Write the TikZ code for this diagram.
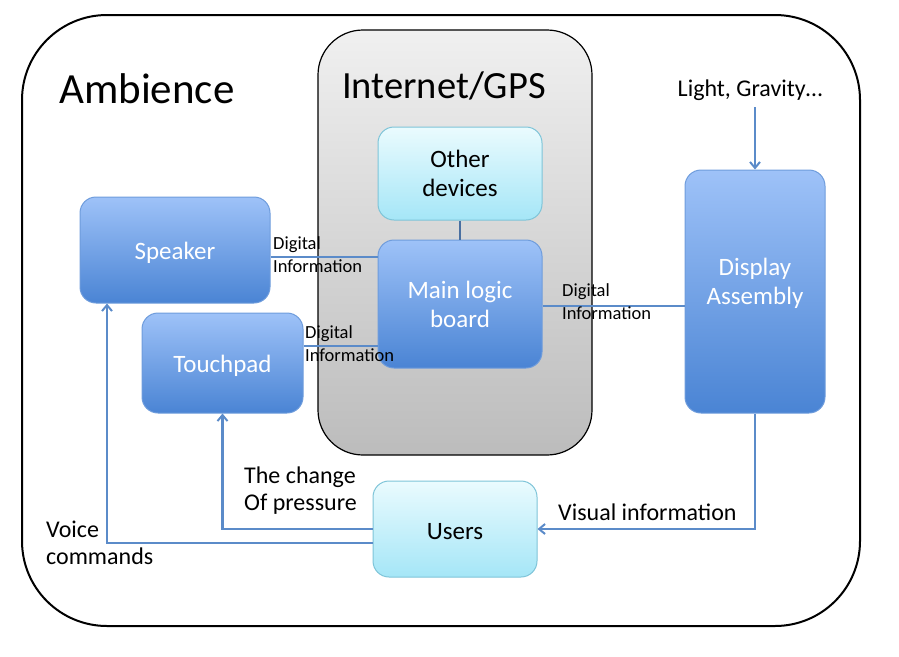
\documentclass[tikz,border=0pt]{standalone}
\usepackage{fontspec}
\setmainfont{Carlito}
\usetikzlibrary{arrows.meta,calc}
\definecolor{conncol}{HTML}{5B8BC9}
\definecolor{bluetop}{HTML}{9EC2F8}
\definecolor{bluebot}{HTML}{4A84D4}
\definecolor{blueedge}{HTML}{6E9CDC}
\definecolor{cyantop}{HTML}{EAFBFE}
\definecolor{cyanbot}{HTML}{A5E6F7}
\definecolor{cyanedge}{HTML}{7EC4D8}
\definecolor{graytop}{HTML}{F0F0F0}
\definecolor{graybot}{HTML}{BCBCBC}
\newcommand{\lowtxt}[1]{\raisebox{-3pt}[\height][\depth]{#1}}
\tikzset{
  bluebox/.style={draw=blueedge,line width=1pt,rounded corners=16pt,top color=bluetop,bottom color=bluebot,
    text=white,font=\fontsize{25}{29}\selectfont,align=center,inner sep=0pt},
  cyanbox/.style={draw=cyanedge,line width=1pt,rounded corners=16pt,top color=cyantop,bottom color=cyanbot,
    text=black,font=\fontsize{25}{29}\selectfont,align=center,inner sep=0pt},
  conn/.style={draw=conncol,line width=2.5pt},
  arr/.style={conn,-{Straight Barb[length=6pt,width=10pt,line width=2pt]}},
  smalllbl/.style={font=\fontsize{18.5}{23}\selectfont,align=left,anchor=west,inner sep=0pt},
  midlbl/.style={font=\fontsize{24}{27}\selectfont,align=left,anchor=west,inner sep=0pt},
}
\begin{document}
\begin{tikzpicture}[x=1pt,y=-1pt]
\useasboundingbox (0,0) rectangle (899,656);
% outer frame
\draw[line width=2pt,rounded corners=85pt] (22,15) rectangle (860,626);
\node[font=\fontsize{43}{45}\selectfont,anchor=west,inner sep=0pt] (amb) at (59,89) {Ambience};
% gray internet box
\node[draw=black,line width=1.2pt,rounded corners=45pt,top color=graytop,bottom color=graybot,
  minimum width=274pt,minimum height=425pt,inner sep=0pt] (gps) at (455,242.5) {};
\node[font=\fontsize{38.5}{40}\selectfont,inner sep=0pt] (gpslbl) at (444,86) {Internet/GPS};
% boxes
\node[cyanbox,minimum width=164pt,minimum height=93pt] (other) at (460,173.5) {Other\\devices};
\node[bluebox,minimum width=164pt,minimum height=128pt] (main) at (460,304) {Main logic\\board};
\node[bluebox,minimum width=190pt,minimum height=106pt] (spk) at (175,250) {\lowtxt{Speaker}};
\node[bluebox,minimum width=161pt,minimum height=100pt] (touch) at (222.5,363) {\lowtxt{Touchpad}};
\node[bluebox,minimum width=140pt,minimum height=243pt] (disp) at (755,291.5) {Display\\Assembly\\[-8pt]\mbox{}};
\node[cyanbox,minimum width=164pt,minimum height=96pt] (users) at (455,529) {\lowtxt{Users}};
\node[font=\fontsize{24}{26}\selectfont,inner sep=0pt] (light) at (750,90) {Light, Gravity…};
% helper coordinates
\coordinate (spkout) at ([yshift=-7pt]spk.east);
\coordinate (touchout) at ([yshift=17pt]touch.east);
\coordinate (mainout) at ([yshift=-2pt]main.east);
\coordinate (lightout) at (755,107);
\coordinate (usersout) at ([yshift=-14pt]users.west);
\coordinate (spkin) at ([xshift=-68pt]spk.south);
% connectors
\draw[draw=conncol!80!black,line width=1.5pt] (other.south) -- (main.north);
\draw[conn] (spkout) -- (main.west |- spkout);
\draw[conn] (touchout) -- (main.west |- touchout);
\draw[conn] (mainout) -- (disp.west |- mainout);
\draw[arr] (lightout) -- (disp.north);
\draw[arr] (disp.south) |- (users.east);
\draw[arr] (users.west) -| (touch.south);
\draw[arr] (usersout) -| (spkin);
% labels
\node[smalllbl] (l1) at (273,255) {Digital\\Information};
\node[smalllbl] (l2) at (305,344) {Digital\\Information};
\node[smalllbl] (l3) at (562,302) {Digital\\Information};
\node[midlbl] (l4) at (244,491) {The change\\Of pressure};
\node[midlbl] (l5) at (46,543) {Voice\\commands};
\node[midlbl] (l6) at (558,512) {Visual information};
\end{tikzpicture}
\end{document}
